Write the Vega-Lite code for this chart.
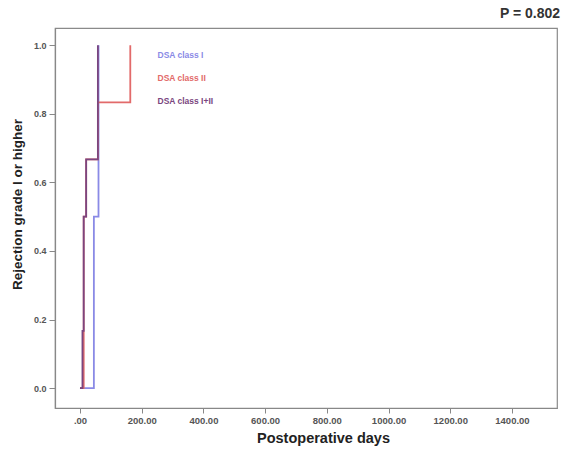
{
  "$schema": "https://vega.github.io/schema/vega-lite/v6.json",
  "width": 502,
  "height": 380,
  "autosize": "none",
  "padding": {"left": 55, "top": 28, "right": 17, "bottom": 45},
  "background": "white",
  "config": {
    "font": "Liberation Sans",
    "view": {"stroke": "#8a8a8a", "strokeWidth": 1.2}
  },
  "title": {
    "text": "P = 0.802",
    "anchor": "end",
    "fontSize": 14,
    "fontWeight": "bold",
    "color": "#333333",
    "offset": 7,
    "dx": 3,
    "font": "Liberation Sans"
  },
  "data": {
    "values": [
      {"series": "DSA class I", "day": 0, "rate": 0},
      {"series": "DSA class I", "day": 45, "rate": 0.5},
      {"series": "DSA class I", "day": 60, "rate": 1.0},
      {"series": "DSA class II", "day": 0, "rate": 0},
      {"series": "DSA class II", "day": 12, "rate": 0.5},
      {"series": "DSA class II", "day": 20, "rate": 0.667},
      {"series": "DSA class II", "day": 58, "rate": 0.833},
      {"series": "DSA class II", "day": 163, "rate": 1.0},
      {"series": "DSA class I+II", "day": 0, "rate": 0},
      {"series": "DSA class I+II", "day": 8, "rate": 0.167},
      {"series": "DSA class I+II", "day": 12, "rate": 0.5},
      {"series": "DSA class I+II", "day": 20, "rate": 0.667},
      {"series": "DSA class I+II", "day": 58, "rate": 1.0}
    ]
  },
  "mark": {"type": "line", "interpolate": "step-after", "strokeWidth": 1.8, "clip": true},
  "encoding": {
    "x": {
      "field": "day",
      "type": "quantitative",
      "scale": {"domain": [-81, 1546], "nice": false, "zero": false},
      "axis": {
        "values": [0, 200, 400, 600, 800, 1000, 1200, 1400],
        "labelExpr": "datum.value == 0 ? '.00' : format(datum.value, '.2f')",
        "title": "Postoperative days",
        "titleFontSize": 14.5,
        "titleFontWeight": "bold",
        "titleColor": "#222222",
        "titlePadding": 7,
        "titleX": 268,
        "labelFontSize": 9.5,
        "labelFontWeight": "bold",
        "labelColor": "#555555",
        "labelPadding": 2,
        "tickSize": 5,
        "tickColor": "#888888",
        "domainColor": "#888888",
        "domainWidth": 1.2,
        "grid": false
      }
    },
    "y": {
      "field": "rate",
      "type": "quantitative",
      "scale": {"domain": [-0.058, 1.05], "nice": false, "zero": false},
      "axis": {
        "values": [0, 0.2, 0.4, 0.6, 0.8, 1.0],
        "format": ".1f",
        "title": "Rejection grade I or higher",
        "titleFontSize": 13.5,
        "titleFontWeight": "bold",
        "titleColor": "#222222",
        "titlePadding": 9,
        "titleY": 176,
        "labelFontSize": 9,
        "labelFontWeight": "bold",
        "labelColor": "#555555",
        "labelPadding": 3,
        "tickSize": 6,
        "tickColor": "#888888",
        "domainColor": "#888888",
        "domainWidth": 1.2,
        "grid": false
      }
    },
    "color": {
      "field": "series",
      "type": "nominal",
      "sort": ["DSA class I", "DSA class II", "DSA class I+II"],
      "scale": {
        "domain": ["DSA class I", "DSA class II", "DSA class I+II"],
        "range": ["#8a8ae6", "#e26a6a", "#7a4680"]
      },
      "legend": {
        "orient": "none",
        "legendX": 92,
        "legendY": 23,
        "title": null,
        "symbolOpacity": 0,
        "symbolSize": 10,
        "labelFontSize": 8.5,
        "labelFontWeight": "bold",
        "rowPadding": 14,
        "labelOffset": 2,
        "encode": {
          "labels": {"update": {"fill": {"scale": "color", "field": "value"}}}
        }
      }
    },
    "order": {"field": "day", "type": "quantitative"}
  }
}
